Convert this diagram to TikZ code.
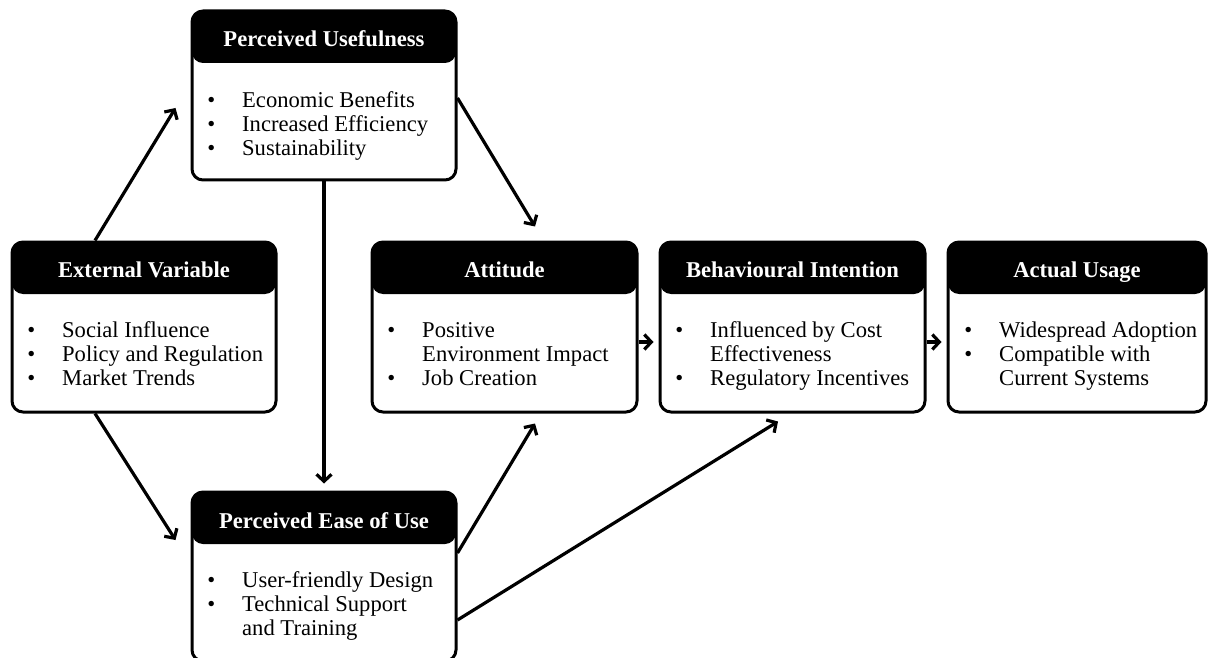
\documentclass[tikz,border=0pt]{standalone}
\usepackage{fontspec}
\setmainfont{Liberation Serif}
\usetikzlibrary{arrows.meta,calc}
\newcommand{\bul}{\llap{\textbullet\hspace{27pt}}}
\newcommand{\fst}{\rule{0pt}{17pt}}
\begin{document}
\begin{tikzpicture}[x=1pt,y=-1pt,
  box/.style={draw, line width=3pt, rounded corners=11pt, inner sep=0pt,
    path picture={\fill[black] (path picture bounding box.north west) rectangle ([yshift=-52pt]path picture bounding box.north east);}},
  title/.style={text=white, font=\fontsize{22.6}{24}\selectfont\bfseries, anchor=base, inner sep=0pt},
  body/.style={font=\fontsize{22.6}{24}\selectfont, align=left, anchor=north west, inner sep=0pt},
  arr/.style={line width=3.2pt, -{Straight Barb[length=7pt,width=15pt,line width=3.2pt]}}
]
\useasboundingbox (0,0) rectangle (1208,658);

% boxes
\node[box, minimum width=264pt, minimum height=169pt] (pu) at (324,95.5) {};
\node[box, minimum width=264pt, minimum height=170pt] (ev) at (144,327) {};
\node[box, minimum width=265pt, minimum height=170pt] (att) at (504.5,327) {};
\node[box, minimum width=265pt, minimum height=170pt] (bi) at (792.5,327) {};
\node[box, minimum width=258pt, minimum height=170pt] (au) at (1077,327) {};
\node[box, minimum width=264pt, minimum height=169pt] (peu) at (324,576.5) {};

% titles
\node[title] (tpu) at (324,47) {Perceived Usefulness};
\node[title] (tev) at (144,277) {External Variable};
\node[title] (tatt) at (504.5,277) {Attitude};
\node[title] (tbi) at (792.5,277) {Behavioural Intention};
\node[title] (tau) at (1077,277) {Actual Usage};
\node[title] (tpeu) at (324,528) {Perceived Ease of Use};

% bodies
\node[body] (bpu) at (242,90) {\fst\bul Economic Benefits\\ \bul Increased Efficiency\\ \bul Sustainability};
\node[body] (bev) at (62,320) {\fst\bul Social Influence\\ \bul Policy and Regulation\\ \bul Market Trends};
\node[body] (batt) at (422,320) {\fst\bul Positive\\ Environment Impact\\ \bul Job Creation};
\node[body] (bbi) at (710,320) {\fst\bul Influenced by Cost\\ Effectiveness\\ \bul Regulatory Incentives};
\node[body] (bau) at (999,320) {\fst\bul Widespread Adoption\\ \bul Compatible with\\ Current Systems};
\node[body] (bpeu) at (242,570) {\fst\bul User-friendly Design\\ \bul Technical Support\\ and Training};

% connectors
\draw[arr] ($(ev.north)+(-49,0)$) -- ($(pu.west)+(-15,12.5)$);
\draw[arr] ($(ev.south)+(-49,0)$) -- ($(peu.west)+(-15,-36.5)$);
\draw[arr] (pu.south) -- ($(peu.north)+(0,-7)$);
\draw[arr] ($(pu.east)+(0,2.5)$) -- ($(att.north)+(30.5,-14)$);
\draw[arr] ($(peu.east)+(0,-23.5)$) -- ($(att.south)+(30.5,10)$);
\draw[arr] ($(peu.east)+(0,43.5)$) -- ($(bi.south)+(-14.5,8)$);
\draw[arr] ($(att.east)+(0,15)$) -- ($(bi.west)+(-5,15)$);
\draw[arr] ($(bi.east)+(0,15)$) -- ($(au.west)+(-5,15)$);
\end{tikzpicture}
\end{document}
